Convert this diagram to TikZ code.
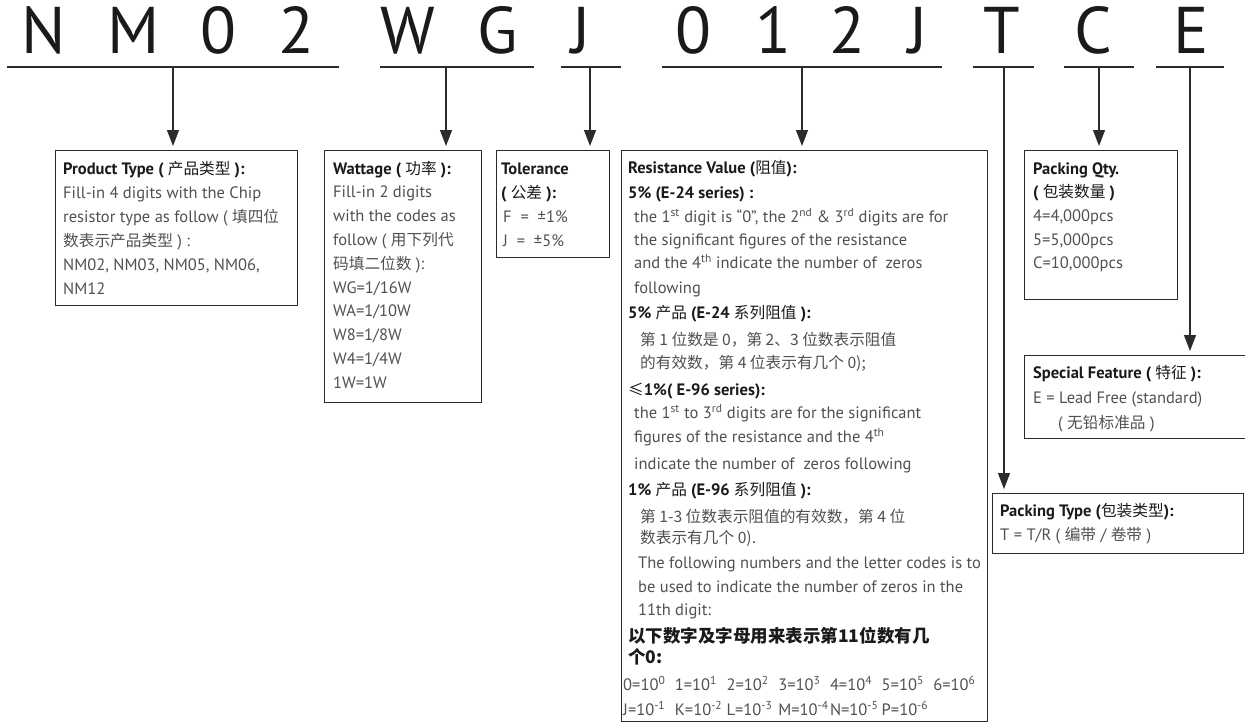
\documentclass[tikz,border=0pt]{standalone}
\usepackage{fontspec}
\setmainfont{PT Sans}
\newfontfamily\cjkf[Scale=0.95]{Noto Sans CJK SC}
\newfontfamily\cjkb{Noto Sans CJK SC}
\usetikzlibrary{arrows.meta}
\newcommand\zh[1]{{\cjkf\mdseries #1}}
\definecolor{linec}{HTML}{2B2B2B}
\definecolor{ttl}{HTML}{1A1A1A}
\definecolor{body}{HTML}{505050}
\tikzset{
 seg/.style={line width=1.6pt, draw=linec},
 arr/.style={line width=1.2pt, draw=linec, -{Triangle[length=16pt,width=12pt]}, shorten >=4pt},
 box/.style={draw=linec, line width=1.2pt, anchor=north west, inner sep=0pt},
 big/.style={anchor=base, inner sep=0pt, font=\fontsize{66}{66}\selectfont, text=ttl},
 tl/.style={anchor=base west, inner sep=0pt, font=\fontsize{16.5}{20}\selectfont\bfseries, text=ttl},
 bd/.style={anchor=base west, inner sep=0pt, font=\fontsize{16.5}{20}\selectfont, text=body},
 zhb/.style={anchor=base west, inner sep=0pt, font=\fontsize{17.5}{20}\selectfont\cjkb\bfseries, text=ttl},
}
\newcommand\itm[1]{\makebox[51.7pt][l]{#1}}
\begin{document}
\begin{tikzpicture}[x=1pt,y=-1pt]
\useasboundingbox (0,0) rectangle (1245,723);
% big letters
\node[big] (L1) at (44,53) {N};
\node[big] (L2) at (134,53) {M};
\node[big] (L3) at (218,53) {0};
\node[big] (L4) at (296,53) {2};
\node[big] (L5) at (408,53) {W};
\node[big] (L6) at (498,53) {G};
\node[big] (L7) at (581,53) {J};
\node[big] (L8) at (693,53) {0};
\node[big] (L9) at (773,53) {1};
\node[big] (L10) at (847,53) {2};
\node[big] (L11) at (918,53) {J};
\node[big] (L12) at (1002,53) {T};
\node[big] (L13) at (1093,53) {C};
\node[big] (L14) at (1191,53) {E};
% underline segments
\coordinate (a1) at (7,67);    \coordinate (b1) at (339,67);  \coordinate (s1) at (173,67);
\coordinate (a2) at (380,67);  \coordinate (b2) at (534,67);  \coordinate (s2) at (446,67);
\coordinate (a3) at (561,67);  \coordinate (b3) at (621,67);  \coordinate (s3) at (590,67);
\coordinate (a4) at (662,67);  \coordinate (b4) at (942,67);  \coordinate (s4) at (802,67);
\coordinate (a5) at (973,67);  \coordinate (b5) at (1034,67); \coordinate (s5) at (1004,67);
\coordinate (a6) at (1064,67); \coordinate (b6) at (1134,67); \coordinate (s6) at (1099,67);
\coordinate (a7) at (1156,67); \coordinate (b7) at (1224,67); \coordinate (s7) at (1190,67);
\foreach \i in {1,...,7} {\draw[seg] (a\i) -- (b\i);}
% boxes
\node[box, minimum width=242pt, minimum height=155pt] (pbox) at (55,150) {};
\node[box, minimum width=157pt, minimum height=252pt] (wbox) at (324,150) {};
\node[box, minimum width=113pt, minimum height=107pt] (tbox) at (496,150) {};
\node[box, minimum width=366pt, minimum height=571pt] (rbox) at (621,150) {};
\node[box, minimum width=153pt, minimum height=149pt] (qbox) at (1024,150) {};
\node[box, minimum width=240pt, minimum height=83pt] (fbox) at (1024,355) {};
\node[box, minimum width=251pt, minimum height=60pt] (ybox) at (992,493) {};
% arrows
\draw[arr] (s1) -- (s1 |- pbox.north);
\draw[arr] (s2) -- (s2 |- wbox.north);
\draw[arr] (s3) -- (s3 |- tbox.north);
\draw[arr] (s4) -- (s4 |- rbox.north);
\draw[arr] (s5) -- (s5 |- ybox.north);
\draw[arr] (s6) -- (s6 |- qbox.north);
\draw[arr] (s7) -- (s7 |- fbox.north);
% product type
\node[tl] (p1) at (63,174) {Product Type ( \zh{产品类型} ):};
\node[bd] (p2) at (63,198) {Fill-in 4 digits with the Chip};
\node[bd] (p3) at (63,222) {resistor type as follow ( \zh{填四位}};
\node[bd] (p4) at (63,246) {\zh{数表示产品类型} ) :};
\node[bd] (p5) at (63,270) {NM02, NM03, NM05, NM06,};
\node[bd] (p6) at (63,294) {NM12};
% wattage
\node[tl] (w1) at (333,174) {Wattage ( \zh{功率} ):};
\node[bd] (w2) at (333,197.8) {Fill-in 2 digits};
\node[bd] (w3) at (333,221.6) {with the codes as};
\node[bd] (w4) at (333,245.4) {follow ( \zh{用下列代}};
\node[bd] (w5) at (333,269.2) {\zh{码填二位数} ):};
\node[bd] (w6) at (333,293) {WG=1/16W};
\node[bd] (w7) at (333,316.8) {WA=1/10W};
\node[bd] (w8) at (333,340.6) {W8=1/8W};
\node[bd] (w9) at (333,364.4) {W4=1/4W};
\node[bd] (w10) at (333,388.2) {1W=1W};
% tolerance
\node[tl] (t1) at (501,174) {Tolerance};
\node[tl] (t2) at (501,198) {( \zh{公差} ):};
\node[bd] (t3) at (503,222) {F\ \ =\ \ ±1\%};
\node[bd] (t4) at (503,246) {J\ \ =\ \ ±5\%};
% resistance
\node[tl] (r1) at (628,173.5) {Resistance Value (\zh{阻值}):};
\node[tl] (r2) at (628,198.5) {5\% (E-24 series) :};
\node[bd] (r3) at (634,222.5) {the 1\textsuperscript{st} digit is “0”, the 2\textsuperscript{nd} \& 3\textsuperscript{rd} digits are for};
\node[bd] (r4) at (634,245.5) {the significant figures of the resistance};
\node[bd] (r5) at (634,268.5) {and the 4\textsuperscript{th} indicate the number of\ \ zeros};
\node[bd] (r6) at (634,293.5) {following};
\node[tl] (r7) at (628,318.5) {5\% \zh{产品} (E-24 \zh{系列阻值} ):};
\node[bd] (r8) at (640,345.5) {\zh{第 1 位数是 0，第 2、3 位数表示阻值}};
\node[bd] (r9) at (640,368.5) {\zh{的有效数，第 4 位表示有几个 0);}};
\node[tl] (r10) at (628,395.5) {\zh{≤}1\%( E-96 series):};
\node[bd] (r11) at (634,418.5) {the 1\textsuperscript{st} to 3\textsuperscript{rd} digits are for the significant};
\node[bd] (r12) at (634,442.5) {figures of the resistance and the 4\textsuperscript{th}};
\node[bd] (r13) at (634,469) {indicate the number of\ \ zeros following};
\node[tl] (r14) at (628,495.5) {1\% \zh{产品} (E-96 \zh{系列阻值} ):};
\node[bd] (r15) at (640,522.5) {\zh{第 1-3 位数表示阻值的有效数，第 4 位}};
\node[bd] (r16) at (640,543.5) {\zh{数表示有几个 0).}};
\node[bd] (r17) at (638,568.5) {The following numbers and the letter codes is to};
\node[bd] (r18) at (638,592.5) {be used to indicate the number of zeros in the};
\node[bd] (r19) at (638,615.5) {11th digit:};
\node[zhb] (r20) at (628,642.5) {以下数字及字母用来表示第11位数有几};
\node[zhb] (r21) at (628,663.5) {个0:};
\node[bd] (r22) at (623,690.5) {\itm{0=10\textsuperscript{0}}\itm{1=10\textsuperscript{1}}\itm{2=10\textsuperscript{2}}\itm{3=10\textsuperscript{3}}\itm{4=10\textsuperscript{4}}\itm{5=10\textsuperscript{5}}6=10\textsuperscript{6}};
\node[bd] (r23) at (623,715.5) {\itm{J=10\textsuperscript{-1}}\itm{K=10\textsuperscript{-2}}\itm{L=10\textsuperscript{-3}}\itm{M=10\textsuperscript{-4}}\itm{N=10\textsuperscript{-5}}P=10\textsuperscript{-6}};
% packing qty
\node[tl] (q1) at (1033,174) {Packing Qty.};
\node[tl] (q2) at (1033,197.7) {( \zh{包装数量} )};
\node[bd] (q3) at (1033,221.4) {4=4,000pcs};
\node[bd] (q4) at (1033,245.1) {5=5,000pcs};
\node[bd] (q5) at (1033,268.8) {C=10,000pcs};
% special feature
\node[tl] (f1) at (1033,378.5) {Special Feature ( \zh{特征} ):};
\node[bd] (f2) at (1033,403.5) {E = Lead Free (standard)};
\node[bd] (f3) at (1058,428.5) {( \zh{无铅标准品} )};
% packing type
\node[tl] (y1) at (1000,516.5) {Packing Type (\zh{包装类型}):};
\node[bd] (y2) at (1000,540.5) {T = T/R ( \zh{编带} / \zh{卷带} )};
\end{tikzpicture}
\end{document}
